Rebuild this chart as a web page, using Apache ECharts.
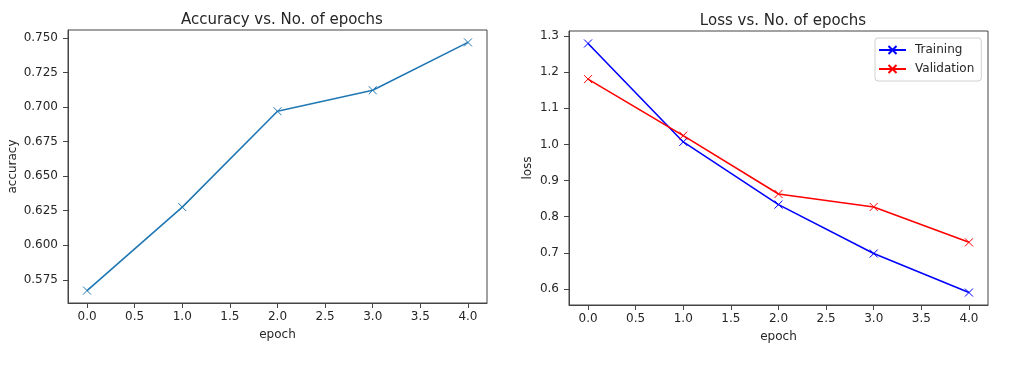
<!DOCTYPE html>
<html>
<head>
<meta charset="utf-8">
<script src="https://cdn.jsdelivr.net/npm/echarts@6/dist/echarts.min.js"></script>
<style>
html,body{margin:0;padding:0;background:#fff;}
#c{width:1025px;height:365px;}
</style>
</head>
<body>
<div id="c"></div>
<script>
var epochs = [0, 1, 2, 3, 4];
var accuracy = [0.5672, 0.6276, 0.6969, 0.7121, 0.7467];
var trainLoss = [1.2797, 1.007, 0.8335, 0.698, 0.590];
var valLoss = [1.181, 1.0246, 0.863, 0.827, 0.729];
var xTicks = [0, 0.5, 1, 1.5, 2, 2.5, 3, 3.5, 4];
var accTicks = [0.575, 0.6, 0.625, 0.65, 0.675, 0.7, 0.725, 0.75];
var lossTicks = [0.6, 0.7, 0.8, 0.9, 1.0, 1.1, 1.2, 1.3];

var FONT = 'DejaVu Sans';
var TXT = '#262626';
var AX = '#444';
var xMark = 'path://M0,0L10,10M10,0L0,10';

function pairs(ys){ return epochs.map(function(e,i){ return [e, ys[i]]; }); }
function pad(vals){
  var mn = Math.min.apply(null, vals), mx = Math.max.apply(null, vals);
  var m = (mx - mn) * 0.05;
  return [mn - m, mx + m];
}
var accR = pad(accuracy);
var lossR = pad(trainLoss.concat(valLoss));

function xAxis(gi){
  return {
    type: 'value', gridIndex: gi, min: -0.2, max: 4.2,
    name: 'epoch', nameLocation: 'middle', nameGap: 26,
    nameTextStyle: {fontFamily: FONT, fontSize: 12, color: TXT},
    splitLine: {show: false},
    axisLine: {show: true, onZero: false, lineStyle: {color: AX, width: 1}},
    axisTick: {show: true, inside: false, length: 5, lineStyle: {color: AX, width: 1}, customValues: xTicks},
    axisLabel: {fontFamily: FONT, fontSize: 12, color: TXT, margin: 8, customValues: xTicks,
      formatter: function(v){ return v.toFixed(1); }}
  };
}
function yAxis(gi, rng, ticks, name, gap, dec){
  return {
    type: 'value', gridIndex: gi, min: rng[0], max: rng[1],
    name: name, nameLocation: 'middle', nameGap: gap,
    nameTextStyle: {fontFamily: FONT, fontSize: 12, color: TXT},
    splitLine: {show: false},
    axisLine: {show: true, onZero: false, lineStyle: {color: AX, width: 1}},
    axisTick: {show: true, inside: false, length: 5, lineStyle: {color: AX, width: 1}, customValues: ticks},
    axisLabel: {fontFamily: FONT, fontSize: 12, color: TXT, margin: 10, customValues: ticks,
      formatter: function(v){ return v.toFixed(dec); }}
  };
}
function lineSeries(name, data, color, xi){
  return {
    type: 'line', name: name, xAxisIndex: xi, yAxisIndex: xi, data: pairs(data),
    symbol: xMark, symbolSize: 8, showAllSymbol: true,
    lineStyle: {color: color, width: 1.6},
    itemStyle: {color: color, borderColor: color, borderWidth: 1},
    animation: false
  };
}

var chart = echarts.init(document.getElementById('c'), null, {renderer: 'canvas'});
chart.setOption({
  animation: false,
  backgroundColor: '#fff',
  title: [
    {text: 'Accuracy vs. No. of epochs', left: 277, top: 8, textAlign: 'center',
     textStyle: {fontFamily: FONT, fontSize: 15, fontWeight: 'normal', color: TXT}},
    {text: 'Loss vs. No. of epochs', left: 778, top: 9, textAlign: 'center',
     textStyle: {fontFamily: FONT, fontSize: 15, fontWeight: 'normal', color: TXT}}
  ],
  grid: [
    {left: 68, top: 30, width: 419, height: 273, show: true, borderColor: AX, borderWidth: 1, backgroundColor: 'transparent'},
    {left: 569, top: 31, width: 419, height: 274, show: true, borderColor: AX, borderWidth: 1, backgroundColor: 'transparent'}
  ],
  xAxis: [xAxis(0), xAxis(1)],
  yAxis: [yAxis(0, accR, accTicks, 'accuracy', 49, 3), yAxis(1, lossR, lossTicks, 'loss', 35, 1)],
  legend: {
    data: ['Training', 'Validation'], orient: 'vertical', left: 875, top: 38,
    itemWidth: 27, itemHeight: 10, itemGap: 7,
    padding: [6, 7, 6, 3],
    borderColor: '#d0d0d0', borderWidth: 1, borderRadius: 3,
    textStyle: {fontFamily: FONT, fontSize: 12, color: TXT, padding: [0, 0, 0, 4]}
  },
  series: [
    lineSeries('accuracy', accuracy, '#1f77b4', 0),
    lineSeries('Training', trainLoss, '#0000ff', 1),
    lineSeries('Validation', valLoss, '#ff0000', 1)
  ]
});
</script>
</body>
</html>
